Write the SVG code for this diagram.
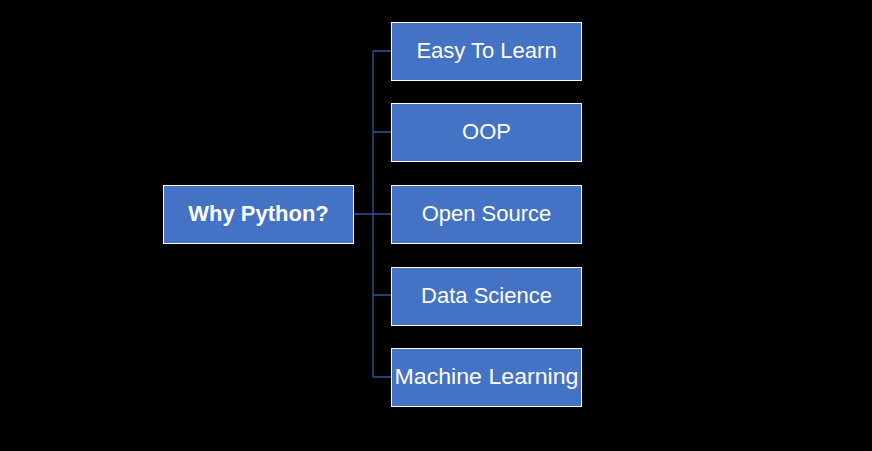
<svg xmlns="http://www.w3.org/2000/svg" width="872" height="451" viewBox="0 0 872 451">
<style>
.box{fill:#4472C4;stroke:#FFFFFF;stroke-width:1}
.t{fill:#FFFFFF;font-family:"Liberation Sans","Open Sans",sans-serif;font-size:22px;text-anchor:middle;dominant-baseline:central}
.b{font-weight:bold}
.c{fill:none;stroke:#2F5597;stroke-width:1.3}
</style>
<rect width="872" height="451" fill="#000000"/>
<g id="connectors">
<path class="c" d="M353.5 214H391"/>
<path class="c" d="M373 51V377"/>
<path class="c" d="M373 51H391M373 132H391M373 295H391M373 377H391"/>
</g>
<g id="n0"><rect class="box" x="163.5" y="185.5" width="190" height="58"/><text class="t b" x="258.5" y="213.5">Why Python?</text></g>
<g id="n1"><rect class="box" x="391.5" y="22.5" width="190" height="58"/><text class="t" x="486.5" y="50.5">Easy To Learn</text></g>
<g id="n2"><rect class="box" x="391.5" y="103.5" width="190" height="58"/><text class="t" x="486.5" y="131.5">OOP</text></g>
<g id="n3"><rect class="box" x="391.5" y="185.5" width="190" height="58"/><text class="t" x="486.5" y="213.5">Open Source</text></g>
<g id="n4"><rect class="box" x="391.5" y="267.5" width="190" height="58"/><text class="t" x="486.5" y="295.5">Data Science</text></g>
<g id="n5"><rect class="box" x="391.5" y="348.5" width="190" height="58"/><text class="t" x="486.5" y="376.5" textLength="184" lengthAdjust="spacingAndGlyphs">Machine Learning</text></g>
</svg>
